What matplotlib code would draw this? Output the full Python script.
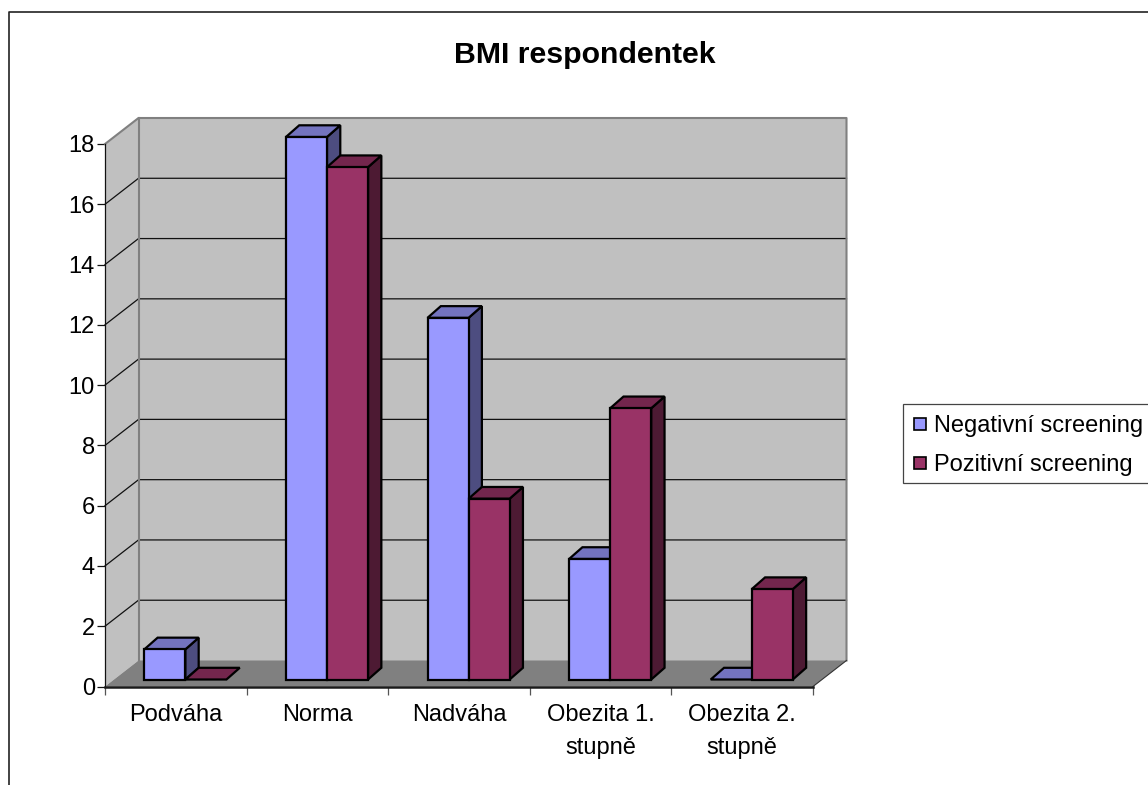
import matplotlib
matplotlib.use('Agg')
import matplotlib.pyplot as plt
from matplotlib.lines import Line2D
from matplotlib.patches import Polygon, Rectangle

plt.rcParams['font.family'] = ['Liberation Sans', 'DejaVu Sans']

categories = ['Podváha', 'Norma', 'Nadváha', 'Obezita 1.\nstupně', 'Obezita 2.\nstupně']
negative = [1, 18, 12, 4, 0]
positive = [0, 17, 6, 9, 3]
series_names = ['Negativní screening', 'Pozitivní screening']
value_ticks = [0, 2, 4, 6, 8, 10, 12, 14, 16, 18]

W, H = 1148, 785

# front plane of the fake 3D box, in pixels
left, right, bottom, top = 105, 813, 686.5, 144

# depth of the box and of the bars, in data units
depth_x, depth_y = 33.5 / 141.6, 26 / 30.14
bar_off_x, bar_off_y = 11 / 141.6, 7 / 30.14
bar_dx, bar_dy = 13.3 / 141.6, 11.7 / 30.14
bar_w = 0.29
gap = 0.2

fig = plt.figure(figsize=(W / 100, H / 100), dpi=100, facecolor='white')
ax = fig.add_axes([left / W, 1 - bottom / H, (right - left) / W, (bottom - top) / H])
ax.set_facecolor('none')
ax.set_xlim(0, len(categories))
ax.set_ylim(0, value_ticks[-1])


def poly(points, color, edge='none', lw=0, z=1):
    ax.add_patch(Polygon(points, closed=True, facecolor=color, edgecolor=edge,
                         linewidth=lw, zorder=z, clip_on=False, joinstyle='miter'))


def line(xs, ys, color='#111111', lw=0.9, z=2):
    ax.add_line(Line2D(xs, ys, color=color, linewidth=lw, zorder=z, clip_on=False))


n = len(categories)
vmax = value_ticks[-1]

# walls and floor
poly([(depth_x, depth_y), (n + depth_x, depth_y), (n + depth_x, vmax + depth_y), (depth_x, vmax + depth_y)], '#c0c0c0')
poly([(0, 0), (depth_x, depth_y), (depth_x, vmax + depth_y), (0, vmax)], '#c0c0c0')
poly([(0, 0), (n, 0), (n + depth_x, depth_y), (depth_x, depth_y)], '#808080')

for v in value_ticks[1:-1]:
    line([0, depth_x, n + depth_x], [v, v + depth_y, v + depth_y])

wall = '#808080'
line([0, depth_x, n + depth_x, n + depth_x], [vmax, vmax + depth_y, vmax + depth_y, depth_y], wall, 1.5)
line([depth_x, depth_x], [depth_y, vmax + depth_y], wall, 1.5)
line([n, n + depth_x], [0, depth_y], '#333333', 0.8)


def draw_bar(x0, value, front, top_col, side_col):
    x1 = x0 + bar_w
    y0 = bar_off_y
    y1 = value + bar_off_y
    ex, ey = bar_dx, bar_dy
    # the right side and top first, the front face goes over them
    if value > 0:
        poly([(x1, y0), (x1 + ex, y0 + ey), (x1 + ex, y1 + ey), (x1, y1)], side_col, 'black', 1.6, 5)
    poly([(x0, y1), (x1, y1), (x1 + ex, y1 + ey), (x0 + ex, y1 + ey)], top_col, 'black', 1.6, 5)
    if value > 0:
        poly([(x0, y0), (x1, y0), (x1, y1), (x0, y1)], front, 'black', 1.6, 5)


for i in range(n):
    x = i + gap + bar_off_x
    draw_bar(x, negative[i], '#9999ff', '#7373bf', '#4d4d80')
    draw_bar(x + bar_w, positive[i], '#993366', '#73264d', '#4d1a33')

# axes
for side in ['top', 'right']:
    ax.spines[side].set_visible(False)
ax.spines['left'].set_linewidth(0.9)
ax.spines['left'].set_color('#111111')
ax.spines['bottom'].set_linewidth(1.8)
ax.spines['bottom'].set_color('#1a1a1a')
ax.spines['bottom'].set_zorder(4)

ax.set_yticks(value_ticks)
ax.tick_params(axis='y', labelsize=17, length=5.8, width=0.9, pad=1.5, color='#111111')
ax.set_xticks(range(n + 1))
ax.set_xticklabels([])
ax.set_xticks([i + 0.5 for i in range(n)], categories, minor=True)
ax.tick_params(axis='x', which='major', length=5.5, width=0.9, color='#555555')
ax.tick_params(axis='x', which='minor', length=0, labelsize=17, pad=12.5)
for lab in ax.get_xticklabels(minor=True):
    lab.set_linespacing(1.63)

fig.text(585 / W, 1 - 55 / H, 'BMI respondentek', fontsize=21.8, fontweight='bold',
         ha='center', va='center')

# chart frame, only the top and left edges fall inside the image
fig.add_artist(Line2D([8.5 / W, 8.5 / W, 1], [0, 1 - 11.5 / H, 1 - 11.5 / H],
                      color='#222222', linewidth=1.2))

# legend box runs past the right edge, so it is drawn apart from the entries
fig.add_artist(Rectangle((903 / W, 1 - 483 / H), 260 / W, 79 / H, transform=fig.transFigure,
                         facecolor='white', edgecolor='#444444', linewidth=0.9))
handles = [Line2D([], [], linestyle='none', marker='s', markersize=8,
                  markerfacecolor='#9999ff', markeredgecolor='black', markeredgewidth=1.2),
           Line2D([], [], linestyle='none', marker='s', markersize=8,
                  markerfacecolor='#993366', markeredgecolor='black', markeredgewidth=1.2)]
leg = fig.legend(handles, series_names, loc='upper left',
                 bbox_to_anchor=(903 / W, 1 - 407 / H), bbox_transform=fig.transFigure,
                 fontsize=17, handlelength=0.75, handletextpad=0.22,
                 labelspacing=0.72, borderpad=0.33, borderaxespad=0, frameon=False)
leg.set_zorder(10)

fig.savefig('out.png', dpi=100)
